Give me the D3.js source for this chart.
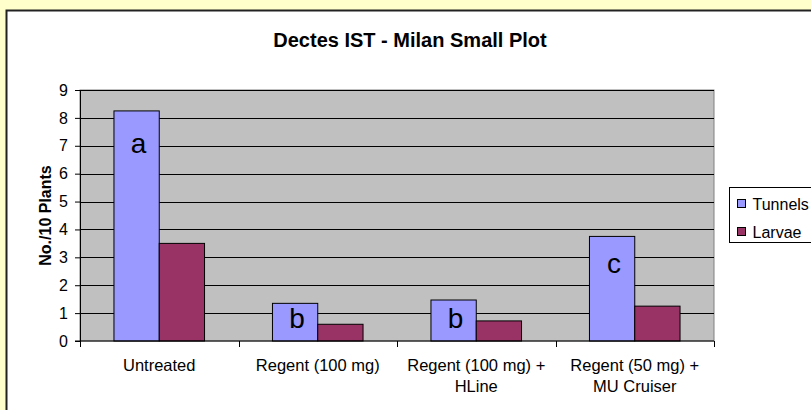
<!DOCTYPE html>
<meta charset="utf-8">
<script src="https://d3js.org/d3.v7.min.js"></script>
<style>
  body { margin: 0; background: #ffffcc; }
</style>
<div id="chart"></div>
<script>

// data
var categories = ["Untreated", "Regent (100 mg)", "Regent (100 mg) + HLine", "Regent (50 mg) + MU Cruiser"];
var catLines = [["Untreated"], ["Regent (100 mg)"], ["Regent (100 mg) +", "HLine"], ["Regent (50 mg) +", "MU Cruiser"]];
var seriesNames = ["Tunnels", "Larvae"];
var tunnels = [8.25, 1.35, 1.47, 3.75];
var larvae = [3.5, 0.6, 0.72, 1.25];
var letters = ["a", "b", "b", "c"];
var letterY = [6.75, 0.45, 0.45, 2.45];
var yTicks = [0, 1, 2, 3, 4, 5, 6, 7, 8, 9];
var colors = ["#9999ff", "#993366"];

var W = 811, H = 410;
var margin = {top: 90, right: 97, bottom: 69, left: 80},
    width = W - margin.left - margin.right,
    height = H - margin.top - margin.bottom;
var font = "Liberation Sans, Arial, sans-serif";

var svg = d3.select("#chart").append("svg")
    .attr("width", W)
    .attr("height", H)
    .style("display", "block");

svg.append("rect")
    .attr("width", W).attr("height", H)
    .attr("fill", "#ffffcc");

// chart area
svg.append("rect")
    .attr("x", 6.5).attr("y", 10.5)
    .attr("width", W + 10).attr("height", H + 10)
    .attr("fill", "#ffffff")
    .attr("stroke", "#222")
    .attr("stroke-width", 2);

svg.append("text")
    .attr("x", 410)
    .attr("y", 47)
    .attr("text-anchor", "middle")
    .attr("font-family", font)
    .attr("font-weight", "bold")
    .attr("font-size", "20px")
    .text("Dectes IST - Milan Small Plot");

var g = svg.append("g")
    .attr("transform", "translate(" + margin.left + "," + margin.top + ")");

var x0 = d3.scaleBand().domain(categories).range([0, width]);
var groupPad = x0.bandwidth() * 1.5 / 3.5 / 2;
var x1 = d3.scaleBand().domain(seriesNames)
    .range([groupPad, x0.bandwidth() - groupPad]);
var y = d3.scaleLinear().domain([0, 9]).range([height, 0]);

g.append("rect")
    .attr("width", width).attr("height", height)
    .attr("fill", "#c0c0c0")
    .attr("stroke", "#808080");

// gridlines
g.append("g")
  .selectAll("line")
  .data(yTicks.filter(function(d) { return d > 0; }))
  .enter().append("line")
    .attr("x1", 0).attr("x2", width)
    .attr("y1", function(d) { return Math.round(y(d)) + 0.5; })
    .attr("y2", function(d) { return Math.round(y(d)) + 0.5; })
    .attr("stroke", "#000");

var rows = categories.map(function(c, i) {
  return {cat: c, vals: [tunnels[i], larvae[i]]};
});

var groups = g.selectAll(".grp")
  .data(rows)
  .enter().append("g")
    .attr("transform", function(d) { return "translate(" + x0(d.cat) + ",0)"; });

groups.selectAll("rect")
  .data(function(d) { return d.vals.map(function(v, j) { return {s: seriesNames[j], v: v, j: j}; }); })
  .enter().append("rect")
    .attr("x", function(d) { return x1(d.s); })
    .attr("y", function(d) { return y(d.v); })
    .attr("width", x1.bandwidth())
    .attr("height", function(d) { return height - y(d.v); })
    .attr("fill", function(d) { return colors[d.j]; })
    .attr("stroke", "#000")
    .attr("stroke-width", 1);

groups.append("text")
    .attr("x", function(d) { return x1("Tunnels") + x1.bandwidth() / 2 + 2; })
    .attr("y", function(d, i) { return y(letterY[i]); })
    .attr("text-anchor", "middle")
    .attr("font-family", font)
    .attr("font-size", "28px")
    .text(function(d, i) { return letters[i]; });

// y axis
var yAxis = g.append("g")
    .call(d3.axisLeft(y).tickValues(yTicks).tickSize(5).tickSizeOuter(0));
yAxis.select(".domain").attr("stroke", "#000");
yAxis.selectAll("text")
    .attr("font-family", font)
    .attr("font-size", "16px")
    .attr("fill", "#000")
    .attr("dx", "-4px");

// x axis
var xAxis = g.append("g")
    .attr("transform", "translate(0," + height + ")");
xAxis.append("line")
    .attr("x1", -5).attr("x2", width)
    .attr("stroke", "#000");
xAxis.selectAll(".tk")
  .data(d3.range(categories.length + 1))
  .enter().append("line")
    .attr("x1", function(d) { return Math.round(d * x0.step()) + 0.5; })
    .attr("x2", function(d) { return Math.round(d * x0.step()) + 0.5; })
    .attr("y1", 0).attr("y2", 6)
    .attr("stroke", "#000");

var xl = xAxis.selectAll(".xl")
  .data(catLines)
  .enter().append("text")
    .attr("text-anchor", "middle")
    .attr("font-family", font)
    .attr("font-size", "16.5px")
    .attr("transform", function(d, i) { return "translate(" + (x0(categories[i]) + x0.bandwidth() / 2) + ",30)"; });
xl.selectAll("tspan")
  .data(function(d) { return d; })
  .enter().append("tspan")
    .attr("x", 0)
    .attr("dy", function(d, i) { return i === 0 ? 0 : 21; })
    .text(function(d) { return d; });

svg.append("text")
    .attr("transform", "translate(51," + (margin.top + height / 2) + ") rotate(-90)")
    .attr("text-anchor", "middle")
    .attr("font-family", font)
    .attr("font-weight", "bold")
    .attr("font-size", "16px")
    .text("No./10 Plants");

// legend
var legend = svg.append("g").attr("transform", "translate(729.5,187.5)");
legend.append("rect")
    .attr("width", 90).attr("height", 55)
    .attr("fill", "#fff")
    .attr("stroke", "#000");
seriesNames.forEach(function(s, i) {
  legend.append("rect")
    .attr("x", 8).attr("y", 12 + i * 28)
    .attr("width", 8).attr("height", 8)
    .attr("fill", colors[i])
    .attr("stroke", "#000");
  legend.append("text")
    .attr("x", 23).attr("y", 22 + i * 28)
    .attr("font-family", font)
    .attr("font-size", "16px")
    .text(s);
});
</script>
